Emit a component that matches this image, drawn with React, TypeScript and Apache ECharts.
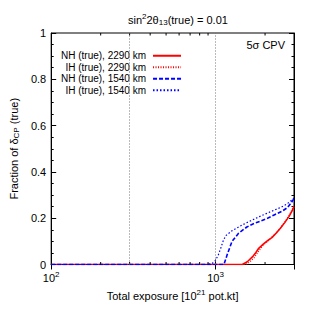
import React, { useEffect, useRef } from "react";
import * as echarts from "echarts";

// exposure [10^21 pot.kt] vs fraction of delta_CP
const nh2290: number[][] = [
  [100, 0], [1000, 0], [1455, 0], [1560, 0.012], [1680, 0.034], [1760, 0.052], [1830, 0.07],
  [1950, 0.088], [2080, 0.104], [2200, 0.116], [2340, 0.136], [2480, 0.157],
  [2640, 0.182], [2800, 0.208], [2920, 0.232], [3000, 0.25],
];
const ih2290: number[][] = [
  [100, 0], [1000, 0], [1530, 0], [1620, 0.012], [1720, 0.03], [1830, 0.058], [1960, 0.086],
  [2080, 0.1], [2200, 0.118], [2340, 0.136], [2480, 0.158], [2640, 0.184],
  [2800, 0.212], [2920, 0.236], [3000, 0.256],
];
const nh1540: number[][] = [
  [100, 0], [1000, 0], [1125, 0], [1180, 0.045], [1260, 0.1], [1380, 0.135], [1550, 0.162],
  [1700, 0.176], [1880, 0.188], [2070, 0.2], [2270, 0.214], [2540, 0.23],
  [2740, 0.246], [2880, 0.266], [3000, 0.285],
];
const ih1540: number[][] = [
  [100, 0], [900, 0], [955, 0.005], [1000, 0.018], [1040, 0.042], [1075, 0.07],
  [1110, 0.1], [1151, 0.124], [1260, 0.146], [1380, 0.162], [1520, 0.178],
  [1675, 0.192], [1850, 0.207], [2050, 0.221], [2260, 0.234], [2480, 0.246],
  [2700, 0.26], [2930, 0.28], [3000, 0.288],
];
const minorXTicks: number[] = [200, 300, 400, 500, 600, 700, 800, 900, 2000];
const guideLines: number[] = [300, 1000];
const seriesNames: string[] = [
  "NH (true), 2290 km",
  "IH (true), 2290 km",
  "NH (true), 1540 km",
  "IH (true), 1540 km",
];

const FONT = "'Liberation Sans', Arial, Helvetica, sans-serif";

export default function App() {
  const ref = useRef<HTMLDivElement>(null);
  useEffect(() => {
    if (!ref.current) return;
    const chart = echarts.init(ref.current, undefined, { renderer: "svg" });
    const supRich = {
      b: { fontSize: 11, fontFamily: FONT, color: "#000" },
      sup: { fontSize: 8, fontFamily: FONT, color: "#000", padding: [0, 0, 7, 0] },
    };
    const xAxisBase = {
      type: "log" as const,
      logBase: 10,
      min: 100,
      max: 3000,
      axisLine: { show: true, lineStyle: { color: "#000", width: 1 } },
      axisTick: { show: true, inside: true, length: 5, lineStyle: { color: "#000" } },
      splitLine: { show: false },
    };
    const yAxisBase = {
      type: "value" as const,
      min: 0,
      max: 1,
      interval: 0.2,
      axisLine: { show: true, lineStyle: { color: "#000", width: 1 } },
      axisTick: { show: true, inside: true, length: 5, lineStyle: { color: "#000" } },
      minorTick: { show: true, splitNumber: 4, length: 2.5, lineStyle: { color: "#000" } },
      splitLine: { show: false },
    };
    const lineSeries = (name: string, data: number[][], color: string, type: any, width: number, extra: any = {}) => ({
      name,
      type: "line",
      data,
      showSymbol: false,
      symbol: "none",
      lineStyle: { color, type, width },
      itemStyle: { color },
      z: 3,
      ...extra,
    });
    chart.setOption({
      animation: false,
      backgroundColor: "#fff",
      title: {
        text: "sin{sup|2}2θ{sub|13}(true) = 0.01",
        left: 123,
        top: 7,
        textStyle: {
          fontSize: 11,
          fontWeight: "normal",
          fontFamily: FONT,
          color: "#000",
          rich: {
            sup: { fontSize: 8, fontFamily: FONT, color: "#000", padding: [0, 0, 7, 0] },
            sub: { fontSize: 8, fontFamily: FONT, color: "#000", padding: [5, 0, 0, 0] },
          },
        },
      },
      grid: { left: 51, right: 19, top: 33, bottom: 48.5, show: true, borderColor: "#000", borderWidth: 1 },
      legend: {
        orient: "vertical",
        left: 56,
        top: 45,
        align: "right",
        itemWidth: 28,
        itemHeight: 8,
        itemGap: 0,
        selectedMode: false,
        data: seriesNames,
        itemStyle: { opacity: 0 },
        textStyle: { fontSize: 10, fontFamily: FONT, color: "#000", lineHeight: 11.5, padding: [0, 2, 0, 0] },
      },
      xAxis: [
        {
          ...xAxisBase,
          position: "bottom",
          name: "Total exposure [10{sup|21} pot.kt]",
          nameLocation: "middle",
          nameGap: 24,
          nameTextStyle: {
            fontSize: 11,
            fontFamily: FONT,
            color: "#000",
            rich: { sup: { fontSize: 8, fontFamily: FONT, color: "#000", padding: [0, 0, 7, 0] } },
          },
          axisLabel: {
            show: true,
            margin: 6,
            formatter: (v: number) => {
              const e = Math.round(Math.log10(v));
              if (Math.abs(Math.pow(10, e) - v) > 1e-6) return "";
              return "{b|10}{sup|" + e + "}";
            },
            rich: supRich,
          },
        },
        {
          ...xAxisBase,
          position: "top",
          axisLabel: { show: false },
        },
      ],
      yAxis: [
        {
          ...yAxisBase,
          position: "left",
          name: "Fraction of δ{sub|CP} (true)",
          nameLocation: "middle",
          nameGap: 28,
          nameTextStyle: {
            fontSize: 11,
            fontFamily: FONT,
            color: "#000",
            rich: { sub: { fontSize: 8, fontFamily: FONT, color: "#000", padding: [5, 0, 0, 0] } },
          },
          axisLabel: { show: true, margin: 5, fontSize: 11, fontFamily: FONT, color: "#000" },
        },
        {
          ...yAxisBase,
          position: "right",
          axisLabel: { show: false },
        },
      ],
      graphic: [
        {
          type: "text",
          right: 28,
          top: 39,
          style: { text: "5σ CPV", fontSize: 11, fontFamily: FONT, fill: "#000" },
        },
      ],
      series: [
        {
          type: "custom",
          name: "minorTicks",
          xAxisIndex: 0,
          yAxisIndex: 0,
          data: minorXTicks.map((v) => [v, 0]),
          encode: { x: 0, y: 1 },
          silent: true,
          z: 4,
          renderItem: (_p: any, api: any) => {
            const x = api.value(0);
            const b = api.coord([x, 0]);
            const t = api.coord([x, 1]);
            return {
              type: "group",
              children: [
                { type: "line", shape: { x1: b[0], y1: b[1], x2: b[0], y2: b[1] - 2.5 }, style: { stroke: "#000", lineWidth: 1 } },
                { type: "line", shape: { x1: t[0], y1: t[1], x2: t[0], y2: t[1] + 2.5 }, style: { stroke: "#000", lineWidth: 1 } },
              ],
            };
          },
        },
        lineSeries(seriesNames[0], nh2290, "#ff0000", "solid", 1.6, {
          markLine: {
            silent: true,
            symbol: "none",
            label: { show: false },
            lineStyle: { color: "#777", type: [1, 2], width: 1 },
            data: guideLines.map((v) => ({ xAxis: v })),
          },
        }),
        lineSeries(seriesNames[1], ih2290, "#ff0000", [1, 1.5], 1.2),
        lineSeries(seriesNames[2], nh1540, "#0000ff", [4, 2], 1.6),
        lineSeries(seriesNames[3], ih1540, "#0000ff", [1.5, 2], 1.2),
      ],
    });
    return () => chart.dispose();
  }, []);
  return <div ref={ref} style={{ position: "absolute", left: 0, top: 0, width: 313, height: 313 }} />;
}
